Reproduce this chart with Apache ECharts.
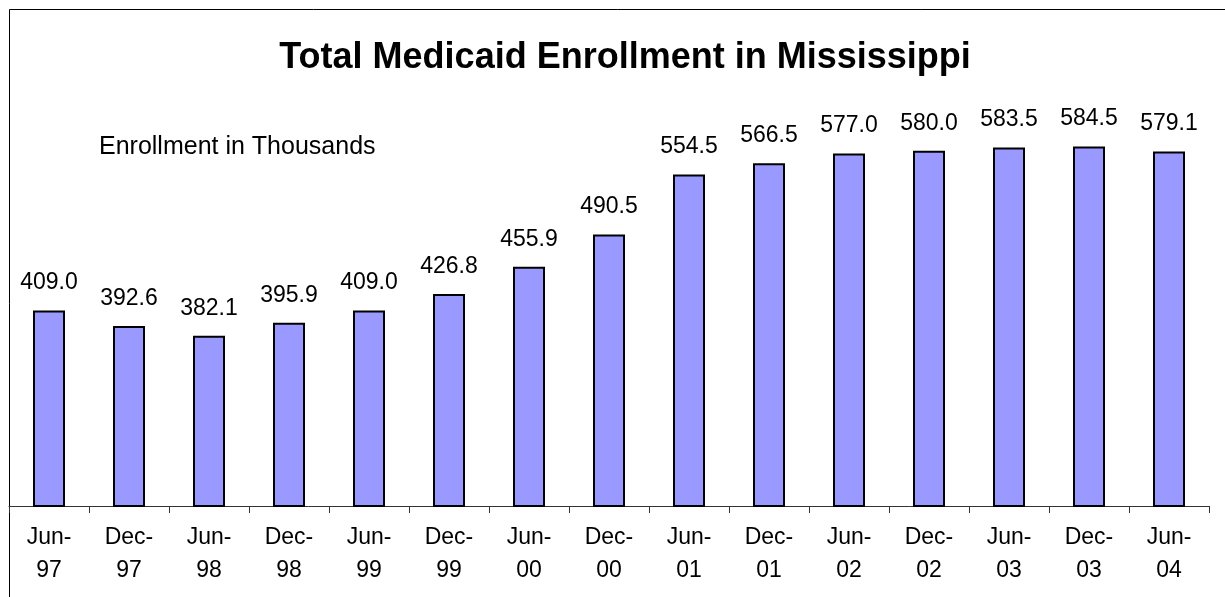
<!DOCTYPE html>
<html>
<head>
<meta charset="utf-8">
<script src="https://cdn.jsdelivr.net/npm/echarts@6/dist/echarts.min.js"></script>
<style>html,body{margin:0;padding:0;background:#fff}#c{width:1225px;height:597px}</style>
</head>
<body>
<div id="c"></div>
<script>
const categories = ['Jun-\n97','Dec-\n97','Jun-\n98','Dec-\n98','Jun-\n99','Dec-\n99','Jun-\n00','Dec-\n00','Jun-\n01','Dec-\n01','Jun-\n02','Dec-\n02','Jun-\n03','Dec-\n03','Jun-\n04'];
const enrollment = [409.0, 392.6, 382.1, 395.9, 409.0, 426.8, 455.9, 490.5, 554.5, 566.5, 577.0, 580.0, 583.5, 584.5, 579.1];
const titleText = 'Total Medicaid Enrollment in Mississippi';
const subtitleText = 'Enrollment in Thousands';

const FONT = '"Liberation Sans", Arial, sans-serif';
const chart = echarts.init(document.getElementById('c'), null, {renderer: 'canvas'});
chart.setOption({
  animation: false,
  backgroundColor: '#fff',
  title: [{
    text: titleText,
    left: 620, top: 35, textAlign: 'center',
    textStyle: {fontFamily: FONT, fontSize: 36, fontWeight: 'bold', color: '#000'}
  }, {
    text: subtitleText,
    left: 94, top: 130,
    textStyle: {fontFamily: FONT, fontSize: 25, fontWeight: 'normal', color: '#000'}
  }],
  graphic: [{
    type: 'rect', silent: true,
    shape: {x: 9.5, y: 9.5, width: 1400, height: 800},
    style: {fill: 'none', stroke: '#000', lineWidth: 1}
  }],
  grid: {left: 9, right: 16, top: 132, bottom: 91, containLabel: false},
  xAxis: {
    type: 'category',
    data: categories,
    boundaryGap: true,
    axisLine: {show: true, lineStyle: {color: '#333', width: 1}},
    axisTick: {show: true, inside: false, length: 7, interval: 0, lineStyle: {color: '#333', width: 1}},
    axisLabel: {interval: 0, margin: 15, color: '#000', fontFamily: FONT, fontSize: 23, lineHeight: 33, align: 'center'}
  },
  yAxis: {
    type: 'value', min: 200, max: 600,
    show: false,
    splitLine: {show: false}
  },
  series: [{
    type: 'bar',
    data: enrollment,
    barWidth: '40%',
    itemStyle: {color: '#9999FF', borderColor: '#000', borderWidth: 2},
    label: {
      show: true, position: 'top', distance: 16,
      formatter: p => p.value.toFixed(1),
      color: '#000', fontFamily: FONT, fontSize: 23
    }
  }]
});
</script>
</body>
</html>
